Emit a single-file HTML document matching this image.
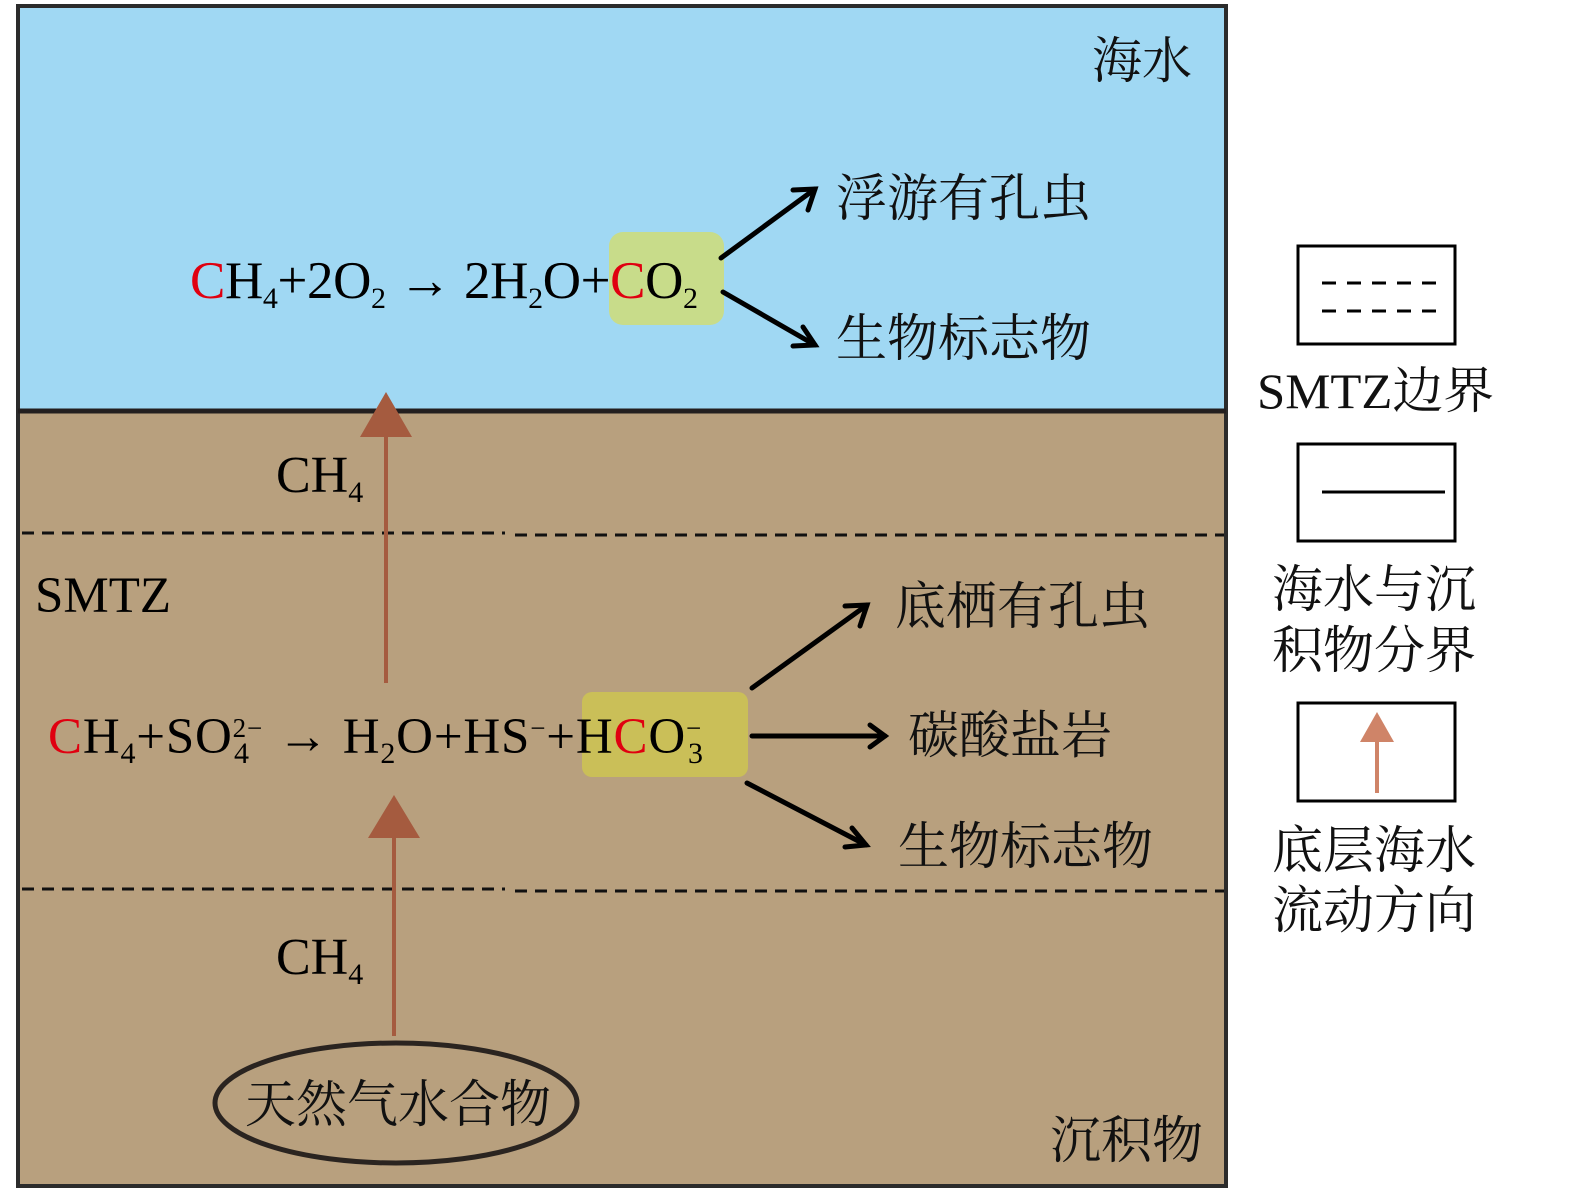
<!DOCTYPE html>
<html><head><meta charset="utf-8"><style>
html,body{margin:0;padding:0;background:#fff}
svg{display:block}
.f{font-family:"Liberation Serif","Noto Serif CJK SC",serif;fill:#000}
.c{font-family:"Liberation Serif","Noto Serif CJK SC","Noto Sans CJK SC",serif;fill:#111}
</style></head><body>
<svg width="1575" height="1193" viewBox="0 0 1575 1193" xmlns="http://www.w3.org/2000/svg">
<rect x="18" y="6" width="1208" height="406" fill="#A0D8F3"/>
<rect x="18" y="412" width="1208" height="774" fill="#B8A07E"/>
<rect x="18" y="6" width="1208" height="1180" fill="none" stroke="#2b2b2b" stroke-width="4"/>
<line x1="18" y1="411" x2="1226" y2="411" stroke="#231f1f" stroke-width="5"/>
<line x1="22" y1="533" x2="505" y2="533" stroke="#111" stroke-width="3" stroke-dasharray="12,8"/>
<line x1="515" y1="535" x2="1224" y2="535" stroke="#111" stroke-width="3" stroke-dasharray="12,8"/>
<line x1="22" y1="889" x2="505" y2="889" stroke="#111" stroke-width="3" stroke-dasharray="12,8"/>
<line x1="515" y1="891" x2="1224" y2="891" stroke="#111" stroke-width="3" stroke-dasharray="12,8"/>

<text class="c" x="1092" y="78" font-size="50">海水</text>
<text class="c" x="1050" y="1158" font-size="51">沉积物</text>

<rect x="609" y="232" width="115" height="93" rx="14" fill="#C8DC8A"/>
<text class="f" x="190" y="298" font-size="53" textLength="508" lengthAdjust="spacing"><tspan fill="#e00010">C</tspan>H<tspan font-size="30" dy="10">4</tspan><tspan dy="-10">+2O</tspan><tspan font-size="30" dy="10">2</tspan><tspan dy="-10"> → 2H</tspan><tspan font-size="30" dy="10">2</tspan><tspan dy="-10">O+</tspan><tspan fill="#e00010">C</tspan>O<tspan font-size="30" dy="10">2</tspan></text>

<g stroke="#000" stroke-width="5" fill="none" stroke-linecap="round">
<line x1="721" y1="258" x2="815" y2="189"/><polyline points="793,190 815,189 808,210"/>
<line x1="723" y1="292" x2="815" y2="345"/><polyline points="803,327 815,345 793,346"/>
<line x1="752" y1="688" x2="867" y2="605"/><polyline points="845,606 867,605 860,626"/>
<line x1="752" y1="736" x2="885" y2="736"/><polyline points="870,725 885,736 870,747"/>
<line x1="747" y1="783" x2="866" y2="845"/><polyline points="852,828 866,845 845,847"/>
</g>
<text class="c" x="836" y="216" font-size="51">浮游有孔虫</text>
<text class="c" x="836" y="356" font-size="51">生物标志物</text>
<text class="c" x="895" y="624" font-size="51">底栖有孔虫</text>
<text class="c" x="908" y="753" font-size="51">碳酸盐岩</text>
<text class="c" x="898" y="864" font-size="51">生物标志物</text>

<text class="f" x="276" y="492" font-size="52">CH<tspan font-size="30" dy="10">4</tspan></text>
<text class="f" x="276" y="974" font-size="52">CH<tspan font-size="30" dy="10">4</tspan></text>
<text class="f" x="35" y="612" font-size="51">SMTZ</text>

<rect x="582" y="692" width="166" height="85" rx="10" fill="#CABF58"/>
<text class="f" x="48" y="753" font-size="51" textLength="655" lengthAdjust="spacing"><tspan fill="#e00010">C</tspan>H<tspan font-size="30" dy="10">4</tspan><tspan dy="-10">+SO</tspan><tspan font-size="27" dy="-16">2−</tspan><tspan font-size="30" dx="-29" dy="26">4</tspan><tspan dx="14" dy="-10"> → H</tspan><tspan font-size="30" dy="10">2</tspan><tspan dy="-10">O+HS</tspan><tspan font-size="27" dy="-16">−</tspan><tspan dy="16">+H</tspan><tspan fill="#e00010">C</tspan>O<tspan font-size="27" dy="-16">−</tspan><tspan font-size="30" dx="-14" dy="26">3</tspan></text>

<g fill="#A55B3F" stroke="#A55B3F">
<line x1="386" y1="683" x2="386" y2="430" stroke-width="4"/>
<polygon points="386,392 412,437 360,437" stroke="none"/>
<line x1="394" y1="1036" x2="394" y2="830" stroke-width="4"/>
<polygon points="394,795 420,838 368,838" stroke="none"/>
</g>

<ellipse cx="396" cy="1103" rx="181" ry="60" fill="none" stroke="#2a2420" stroke-width="5"/>
<text class="c" x="245" y="1122" font-size="51">天然气水合物</text>

<rect x="1298" y="246" width="157" height="98" fill="none" stroke="#000" stroke-width="3"/>
<line x1="1322" y1="283" x2="1440" y2="283" stroke="#000" stroke-width="3" stroke-dasharray="14,11"/>
<line x1="1322" y1="311" x2="1440" y2="311" stroke="#000" stroke-width="3" stroke-dasharray="14,11"/>
<text class="c" x="1257" y="408" font-size="50" textLength="237" lengthAdjust="spacingAndGlyphs">SMTZ边界</text>
<rect x="1298" y="444" width="157" height="97" fill="none" stroke="#000" stroke-width="3"/>
<line x1="1322" y1="492" x2="1445" y2="492" stroke="#000" stroke-width="3"/>
<text class="c" x="1272" y="607" font-size="51">海水与沉</text>
<text class="c" x="1272" y="668" font-size="51">积物分界</text>
<rect x="1298" y="703" width="157" height="98" fill="none" stroke="#000" stroke-width="3"/>
<line x1="1377" y1="793" x2="1377" y2="735" stroke="#CF8468" stroke-width="4"/>
<polygon points="1377,712 1394,742 1360,742" fill="#CF8468"/>
<text class="c" x="1272" y="868" font-size="51">底层海水</text>
<text class="c" x="1272" y="928" font-size="51">流动方向</text>
</svg>
</body></html>
